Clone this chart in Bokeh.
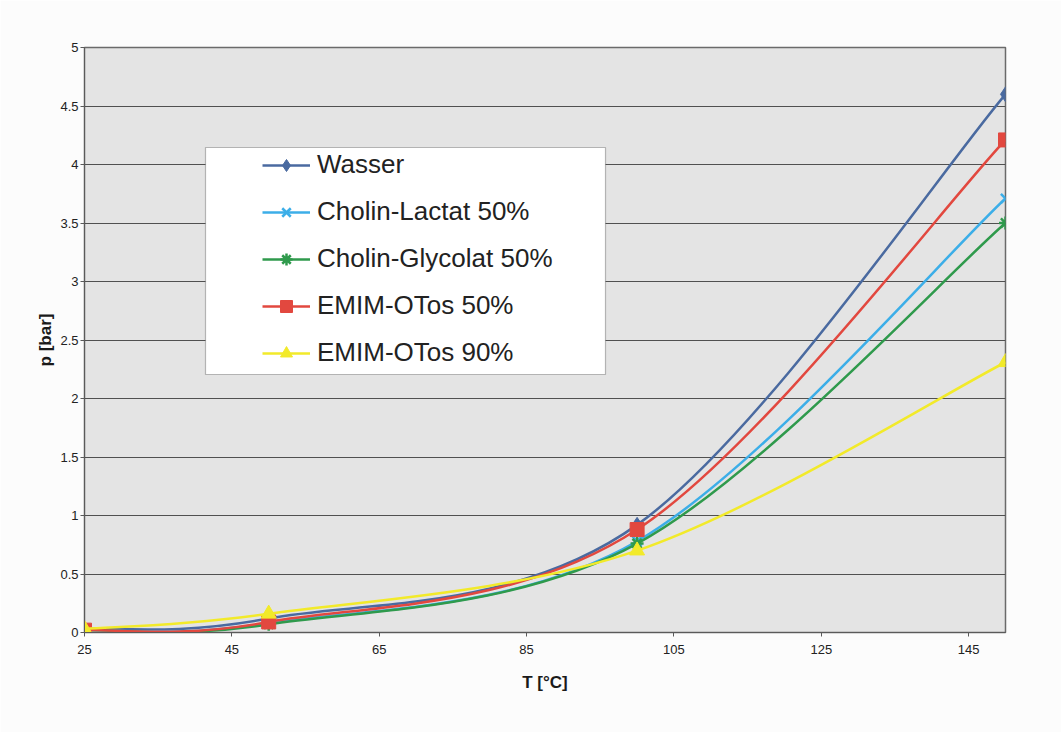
from bokeh.plotting import figure
from bokeh.models import (Legend, LegendItem, BoxAnnotation, FixedTicker, Range1d)
from bokeh.embed import file_html
from bokeh.resources import INLINE

# ---- data ----
temps = [25, 50, 100, 150]
series_names = ["Wasser", "Cholin-Lactat 50%", "Cholin-Glycolat 50%", "EMIM-OTos 50%", "EMIM-OTos 90%"]
wasser = [0.03, 0.12, 0.92, 4.60]
cholin_lactat = [0.02, 0.08, 0.78, 3.71]
cholin_glycolat = [0.02, 0.07, 0.76, 3.50]
emim_otos_50 = [0.02, 0.09, 0.88, 4.21]
emim_otos_90 = [0.03, 0.16, 0.70, 2.31]
x_ticks = [25, 45, 65, 85, 105, 125, 145]
y_ticks = [0, 0.5, 1, 1.5, 2, 2.5, 3, 3.5, 4, 4.5, 5]
y_tick_labels = ["0", "0.5", "1", "1.5", "2", "2.5", "3", "3.5", "4", "4.5", "5"]

values = [wasser, cholin_lactat, cholin_glycolat, emim_otos_50, emim_otos_90]
colors = ["#4a6aa0", "#3caee8", "#2f9a4c", "#e2483f", "#f2ea2a"]
markers = ["diamond", "x", "asterisk", "square", "triangle"]
msizes = [15, 13, 13, 14, 15]


def smooth_segments(xs, ys):
    """Bezier control points for a smoothed line through the data points."""
    n = len(xs)
    seg = {k: [] for k in ["x0", "y0", "x1", "y1", "cx0", "cy0", "cx1", "cy1"]}
    for i in range(n - 1):
        ia, ib = max(i - 1, 0), min(i + 2, n - 1)
        seg["x0"].append(xs[i]); seg["y0"].append(ys[i])
        seg["x1"].append(xs[i + 1]); seg["y1"].append(ys[i + 1])
        seg["cx0"].append(xs[i] + (xs[i + 1] - xs[ia]) / 6)
        seg["cy0"].append(ys[i] + (ys[i + 1] - ys[ia]) / 6)
        seg["cx1"].append(xs[i + 1] - (xs[ib] - xs[i]) / 6)
        seg["cy1"].append(ys[i + 1] - (ys[ib] - ys[i]) / 6)
    return seg


p = figure(width=1061, height=732, output_backend="svg", toolbar_location=None,
           x_range=Range1d(25, 150), y_range=Range1d(0, 5),
           min_border_left=84, min_border_right=56, min_border_top=47, min_border_bottom=100,
           background_fill_color="#e4e4e4", border_fill_color="#fcfcfc")
p.outline_line_color = "#6a6a6a"
p.outline_line_width = 1.5

p.xgrid.visible = False
p.ygrid.grid_line_color = "#505050"
p.ygrid.grid_line_width = 1
p.ygrid.ticker = FixedTicker(ticks=y_ticks)

p.xaxis.ticker = FixedTicker(ticks=x_ticks)
p.yaxis.ticker = FixedTicker(ticks=y_ticks)
p.yaxis.major_label_overrides = {t: l for t, l in zip(y_ticks, y_tick_labels)}
for ax in (p.xaxis[0], p.yaxis[0]):
    ax.axis_line_color = "#5a5a5a"
    ax.major_tick_line_color = "#5a5a5a"
    ax.major_tick_out = 4
    ax.major_tick_in = 0
    ax.minor_tick_line_color = None
    ax.major_label_text_font = "Liberation Sans"
    ax.major_label_text_font_size = "13px"
    ax.major_label_text_color = "#222222"
    ax.axis_label_text_font = "Liberation Sans"
    ax.axis_label_text_font_style = "bold"
    ax.axis_label_text_color = "#1a1a1a"
p.xaxis.axis_label = "T [°C]"
p.xaxis.axis_label_text_font_size = "17px"
p.xaxis.major_label_standoff = 8
p.xaxis.axis_label_standoff = 16
p.yaxis.axis_label = "p [bar]"
p.yaxis.axis_label_text_font_size = "17px"
p.yaxis.major_label_standoff = 2
p.yaxis.axis_label_standoff = 2

items = []
for name, ys, c, m, s in zip(series_names, values, colors, markers, msizes):
    seg = smooth_segments(temps, ys)
    r_line = p.bezier(source=seg, x0="x0", y0="y0", x1="x1", y1="y1",
                      cx0="cx0", cy0="cy0", cx1="cx1", cy1="cy1",
                      line_color=c, line_width=2.5)
    r_pts = p.scatter(temps, ys, marker=m, size=s, fill_color=c, line_color=c,
                      line_width=2.5 if m in ("x", "asterisk") else 1)
    items.append(LegendItem(label=name, renderers=[r_line, r_pts]))

# white legend box
box = BoxAnnotation(left=121, right=521, bottom=258, top=485,
                    left_units="screen", right_units="screen",
                    bottom_units="screen", top_units="screen",
                    fill_color="white", fill_alpha=1.0,
                    line_color="#202020", line_width=1.2, level="annotation")
p.add_layout(box)

legend = Legend(items=items, location=(178, 264), orientation="vertical",
                label_text_font="Liberation Sans", label_text_font_size="26px",
                label_text_color="#222222", glyph_width=48, glyph_height=30,
                label_height=30, label_standoff=7, spacing=16, padding=0, margin=0,
                background_fill_alpha=0, border_line_color=None)
p.add_layout(legend)

open("out.html", "w").write(file_html(p, INLINE))
